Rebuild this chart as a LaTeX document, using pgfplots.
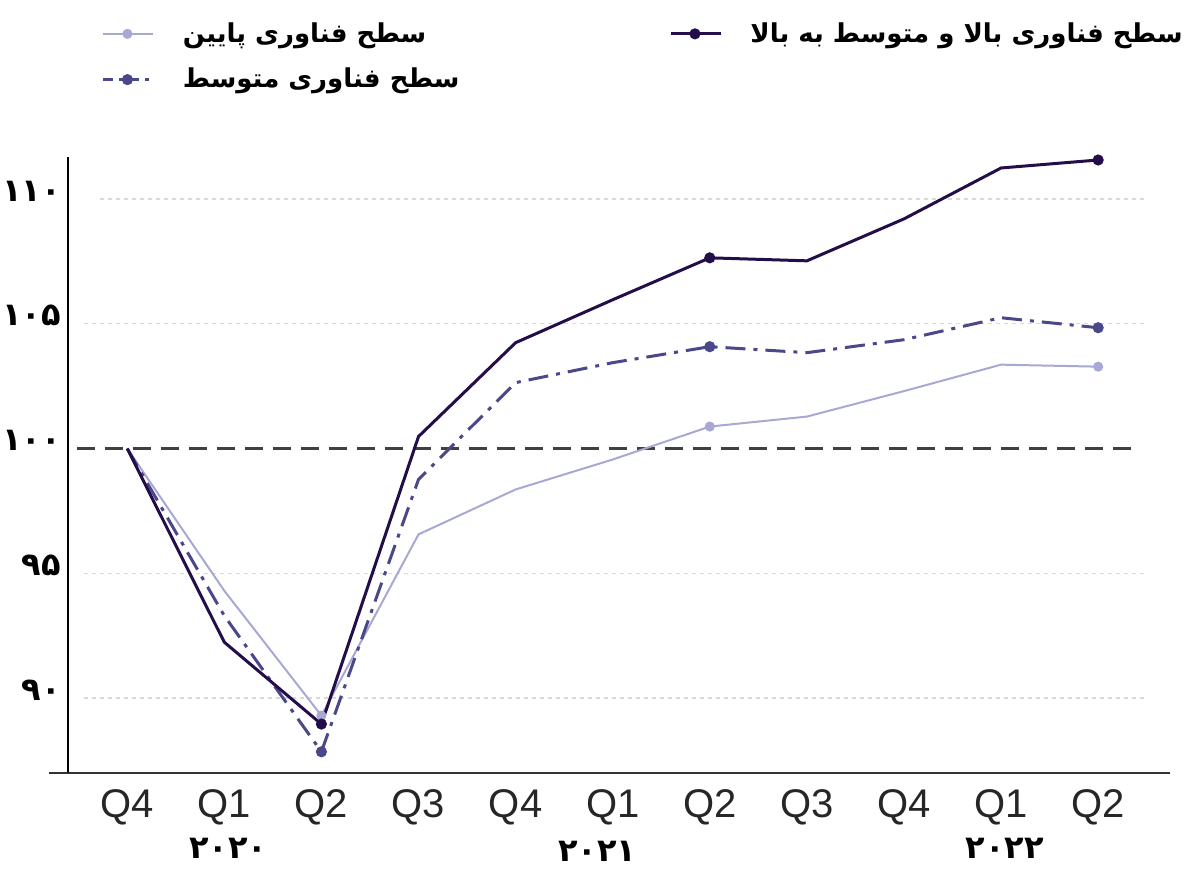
\documentclass[border=0pt]{standalone}
\usepackage{pgfplots}
\pgfplotsset{compat=1.18}
\usepackage{fontspec}
\setmainfont{Liberation Sans}
\newfontfamily\arabicfont[Script=Arabic]{DejaVu Sans}
\TeXXeTstate=1
\definecolor{cdark}{RGB}{36,14,74}
\definecolor{cmed}{RGB}{74,72,138}
\definecolor{clight}{RGB}{168,168,212}
\begin{document}
\begin{tikzpicture}
\path[use as bounding box] (-34pt,-47.5pt) rectangle (568pt,386.5pt);
\begin{axis}[
  scale only axis, width=551pt, height=308pt,
  xmin=-0.61, xmax=10.74, ymin=87, ymax=111.68,
  axis x line=bottom, axis y line=left,
  axis line style={-},
  x axis line style={line width=1.2pt, black!80},
  y axis line style={line width=0.8pt, black},
  major tick length=0pt,
  xtick={0,...,10},
  xticklabels={Q4,Q1,Q2,Q3,Q4,Q1,Q2,Q3,Q4,Q1,Q2},
  xticklabel style={font=\fontsize{20}{22}\selectfont, text=black!85, yshift=-5pt},
  ytick={90,95,100,105,110},
  yticklabels={۹۰,۹۵,۱۰۰,۱۰۵,۱۱۰},
  yticklabel style={font=\arabicfont\bfseries\fontsize{16}{18}\selectfont, yshift=4pt},
  clip=false,
  legend columns=2,
  legend cell align=left,
  legend style={draw=none, fill=none, font=\arabicfont\bfseries\fontsize{13}{16}\selectfont,
    at={(axis description cs:0.025,1.232)}, anchor=north west,
    /tikz/every odd column/.append style={column sep=12pt},
    /tikz/every even column/.append style={column sep=103pt},
    /tikz/row sep=7.5pt},
  legend image code/.code={\draw[mark repeat=2,mark phase=2,#1] plot coordinates {(0pt,0pt) (12pt,0pt) (25pt,0pt)};},
]
% grid lines
\addplot[gray!30, dash pattern=on 2pt off 2pt, line width=0.7pt, forget plot] coordinates {(-0.28,110) (10.5,110)};
\addplot[gray!30, dash pattern=on 2pt off 2pt, line width=0.7pt, forget plot] coordinates {(-0.45,105) (10.5,105)};
\addplot[gray!30, dash pattern=on 2pt off 2pt, line width=0.7pt, forget plot] coordinates {(-0.45,95) (10.5,95)};
\addplot[gray!30, dash pattern=on 2pt off 2pt, line width=0.7pt, forget plot] coordinates {(-0.45,90) (10.5,90)};
\addplot[black!75, dash pattern=on 9pt off 5pt, line width=1.3pt, forget plot] coordinates {(-0.52,100) (10.4,100)};
% series
\addplot[clight, line width=1pt, mark=*, mark size=2pt, mark indices={3,7,11}, forget plot] coordinates {
(0,100) (1,94.3) (2,89.3) (3,96.56) (4,98.36) (5,99.56) (6,100.88) (7,101.28) (8,102.3) (9,103.36) (10,103.28)};
\addplot[cmed, line width=1.5pt, dash pattern=on 10pt off 4pt on 2pt off 4pt, mark=*, mark size=2pt, mark options={solid}, mark indices={3,7,11}, forget plot] coordinates {
(0,100) (1,93.3) (2,87.85) (3,98.76) (4,102.64) (5,103.44) (6,104.08) (7,103.84) (8,104.36) (9,105.24) (10,104.84)};
\addplot[cdark, line width=1.5pt, mark=*, mark size=2pt, mark indices={3,7,11}, forget plot] coordinates {
(0,100) (1,92.24) (2,88.96) (3,100.48) (4,104.24) (5,105.96) (6,107.64) (7,107.52) (8,109.2) (9,111.24) (10,111.56)};
% legend
\addlegendimage{clight, line width=1pt, mark=*, mark size=2pt}
\addlegendentry{\beginR سطح فناوری پایین\endR}
\addlegendimage{cdark, line width=1.5pt, mark=*, mark size=2pt}
\addlegendentry{\beginR سطح فناوری بالا و متوسط به بالا\endR}
\addlegendimage{cmed, line width=1.5pt, dash pattern=on 5pt off 3pt on 2pt off 3pt, mark=*, mark size=2pt, mark options={solid}}
\addlegendentry{\beginR سطح فناوری متوسط\endR}
% extra axis stub
\draw[line width=1.2pt, black!80] (axis cs:-0.81,87) -- (axis cs:-0.61,87);
% years
\node[font=\arabicfont\bfseries\fontsize{16}{18}\selectfont] at (axis cs:1.04,84.0) {۲۰۲۰};
\node[font=\arabicfont\bfseries\fontsize{16}{18}\selectfont] at (axis cs:4.84,83.85) {۲۰۲۱};
\node[font=\arabicfont\bfseries\fontsize{16}{18}\selectfont] at (axis cs:9.04,84.0) {۲۰۲۲};
\end{axis}
\end{tikzpicture}
\end{document}
